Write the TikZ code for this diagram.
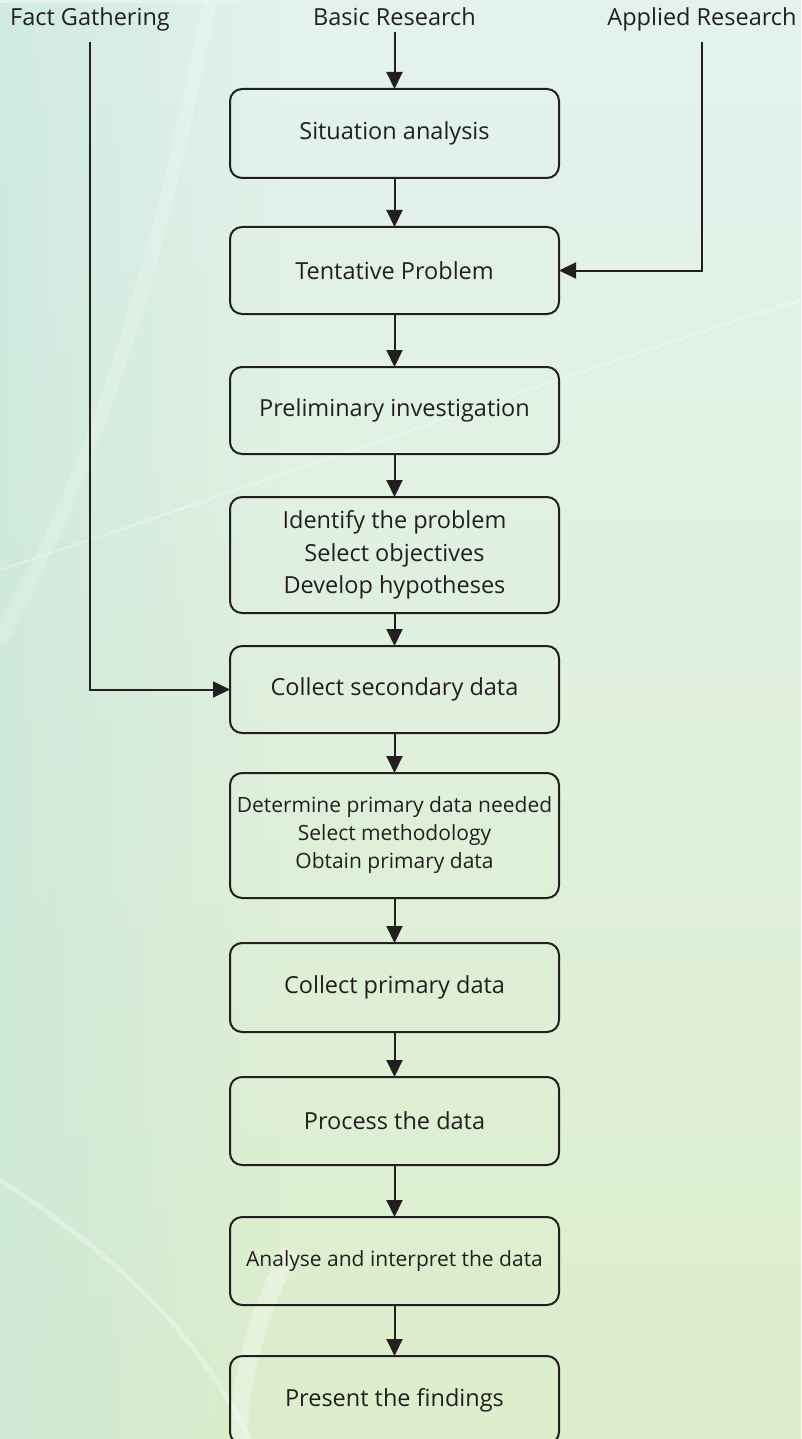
\documentclass[tikz,border=0pt]{standalone}
\usepackage{fontspec}
\setmainfont{Open Sans}
\usepackage{tikz}
\usetikzlibrary{arrows.meta, positioning, fadings}
\definecolor{inkblack}{HTML}{231F20}
\definecolor{bgtop}{HTML}{E3F2EE}
\definecolor{bgmid}{HTML}{ECF5E9}
\definecolor{bgbot}{HTML}{DCEECB}
\definecolor{bgteal}{HTML}{C4E5DA}
\tikzfading[name=fade right, left color=transparent!0, right color=transparent!100]
\tikzset{
  stepbox/.style={
    rectangle, rounded corners=12pt, draw=inkblack, line width=2pt,
    align=center, inner sep=2pt, outer sep=0pt, text=inkblack,
    minimum width=329pt, minimum height=87pt,
    font=\fontsize{23.5}{32.5}\selectfont
  },
  smallbox/.style={stepbox, font=\fontsize{21}{28}\selectfont},
  source/.style={anchor=base, text=inkblack, inner sep=0pt,
    font=\fontsize{23.5}{28}\selectfont},
  arrow/.style={-{Triangle[length=17pt,width=16pt]}, line width=2pt, draw=inkblack},
  swoosh/.style={white, opacity=0.3}
}

\begin{document}
\begin{tikzpicture}[x=1pt, y=1pt, node distance=45pt]

% background
\useasboundingbox (0,0) rectangle (801,-1439);
\clip (0,0) rectangle (801,-1439);
\shade[top color=bgtop, middle color=bgmid, bottom color=bgbot] (0,0) rectangle (801,-1439);
\fill[bgteal, path fading=fade right, opacity=0.6] (0,0) rectangle (280,-1439);
\draw[swoosh, line width=18pt] (290,-1250) .. controls (250,-1330) and (235,-1400) .. (240,-1460);
\draw[swoosh, line width=5pt] (0,-1180) .. controls (120,-1260) and (200,-1330) .. (260,-1460);
\draw[swoosh, line width=2pt] (0,-570) .. controls (300,-470) and (550,-380) .. (801,-300);
\draw[swoosh, line width=14pt, opacity=0.2] (210,0) .. controls (170,-200) and (120,-420) .. (0,-640);

% sources
\node[source] (fact) at (90,-26) {Fact Gathering};
\node[source] (basic) at (394.5,-26) {Basic Research};
\node[source] (applied) at (702,-26) {Applied Research};

% main chain
\node[stepbox, minimum height=89pt] (situation) at (394.5,-133.5) {Situation analysis};
\node[stepbox, below=49pt of situation] (tentative) {Tentative Problem};
\node[stepbox, below=53pt of tentative] (prelim) {Preliminary investigation};
\node[stepbox, below=43pt of prelim, minimum height=116pt] (identify)
  {Identify the problem\\Select objectives\\Develop hypotheses};
\node[stepbox, below=33pt of identify] (secondary) {Collect secondary data};
\node[smallbox, below=40pt of secondary, minimum height=125pt] (determine)
  {Determine primary data needed\\Select methodology\\Obtain primary data};
\node[stepbox, below=45pt of determine, minimum height=89pt] (primary) {Collect primary data};
\node[stepbox, below=45pt of primary, minimum height=88pt] (process) {Process the data};
\node[smallbox, below=52pt of process, minimum height=88pt] (analyse)
  {Analyse and interpret the data};
\node[stepbox, below=51pt of analyse, minimum height=88pt] (present) {Present the findings};

% connectors
\draw[arrow, shorten <=6pt] (basic.south) -- (situation);
\draw[arrow] (situation) -- (tentative);
\draw[arrow] (tentative) -- (prelim);
\draw[arrow] (prelim) -- (identify);
\draw[arrow] (identify) -- (secondary);
\draw[arrow] (secondary) -- (determine);
\draw[arrow] (determine) -- (primary);
\draw[arrow] (primary) -- (process);
\draw[arrow] (process) -- (analyse);
\draw[arrow] (analyse) -- (present);
\draw[arrow, shorten <=10pt] (fact.south) |- (secondary);
\draw[arrow, shorten <=10pt] (applied.south) |- (tentative);

\end{tikzpicture}
\end{document}
